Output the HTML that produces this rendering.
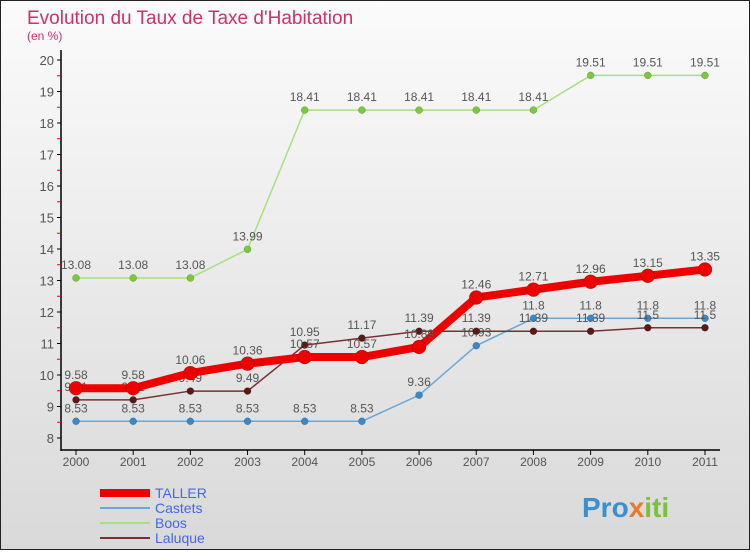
<!DOCTYPE html>
<html><head><meta charset="utf-8"><style>
body{margin:0;width:750px;height:550px;overflow:hidden;font-family:"Liberation Sans",sans-serif}
</style></head><body>
<svg width="750" height="550" xmlns="http://www.w3.org/2000/svg">
<defs><linearGradient id="bg" x1="0" y1="0" x2="0" y2="1"><stop offset="0" stop-color="#fbfbfb"/><stop offset="1" stop-color="#d9d9d9"/></linearGradient></defs>
<rect x="0.5" y="0.5" width="749" height="549" fill="url(#bg)" stroke="#222"/>
<text x="27" y="24" font-size="19" fill="#d0306a">Evolution du Taux de Taxe d'Habitation</text>
<text x="27" y="40" font-size="12" fill="#d0306a">(en %)</text>
<g id="axes"></g><g id="series"></g><g id="legend"></g>
<text x="582" y="517" font-size="28" font-weight="bold" fill="#3a8fd0">Pro<tspan fill="#e8792a">x</tspan><tspan fill="#7cc13b">iti</tspan></text>
</svg>
<script>
const years=[2000,2001,2002,2003,2004,2005,2006,2007,2008,2009,2010,2011];
const taller=[9.58,9.58,10.06,10.36,10.57,10.57,10.89,12.46,12.71,12.96,13.15,13.35];
const castets=[8.53,8.53,8.53,8.53,8.53,8.53,9.36,10.93,11.8,11.8,11.8,11.8];
const boos=[13.08,13.08,13.08,13.99,18.41,18.41,18.41,18.41,18.41,19.51,19.51,19.51];
const laluque=[9.21,9.21,9.49,9.49,10.95,11.17,11.39,11.39,11.39,11.39,11.5,11.5];
const yTicks=[8,9,10,11,12,13,14,15,16,17,18,19,20];
const NS="http://www.w3.org/2000/svg";
const X=i=>76+i*57.18, Y=v=>438-(v-8)*31.5;
function mk(tag,attrs,parent){const e=document.createElementNS(NS,tag);for(const k in attrs)e.setAttribute(k,attrs[k]);parent.appendChild(e);return e;}
const ax=document.getElementById('axes');
let l=mk('line',{x1:61,y1:50,x2:61,y2:451,stroke:'#000','stroke-width':1.5},ax);


l=mk('line',{x1:61,y1:450,x2:720,y2:450,stroke:'#000','stroke-width':1.5},ax);


yTicks.forEach(v=>{
 mk('line',{x1:57,x2:61,y1:Y(v),y2:Y(v),stroke:'#000'},ax);
 if(v<20)mk('line',{x1:57,x2:61,y1:Y(v+0.5),y2:Y(v+0.5),stroke:'#e00'},ax);
 const t=mk('text',{x:54,y:Y(v)+5,'font-size':13,fill:'#555','text-anchor':'end'},ax);t.textContent=v;
 
 
});
years.forEach((y,i)=>{
 mk('line',{x1:X(i),x2:X(i),y1:450,y2:455,stroke:'#000'},ax);
 const t=mk('text',{x:X(i),y:466,'font-size':12,fill:'#555','text-anchor':'middle'},ax);t.textContent=y;
 
 
});
const sg=document.getElementById('series');
function series(name,data,color,w,r,dot){
 const g=mk('g',{},sg);
 
 
 mk('polyline',{points:data.map((v,i)=>X(i)+','+Y(v)).join(' '),fill:'none',stroke:color,'stroke-width':w,'stroke-linejoin':'round'},g);
 data.forEach((v,i)=>{
  const c=mk('circle',{cx:X(i),cy:Y(v),r:r,fill:dot,stroke:'rgba(0,0,0,0.3)','stroke-width':0.5},g);
  
  
  const t=mk('text',{x:X(i),y:Y(v)-9,'font-size':12,fill:'#555','text-anchor':'middle'},g);t.textContent=v;
 });
}
series('boos',boos,'#a8e080',1.5,3.5,'#7cc83c');
series('castets',castets,'#6aa8d8',1.5,3.5,'#3a88c8');
series('laluque',laluque,'#7a3030',1.5,3.5,'#5a1818');
series('taller',taller,'#ee0000',8,7,'#ee0000');
const lg=document.getElementById('legend');
[['TALLER','#ee0000',8],['Castets','#6aa8d8',2],['Boos','#a8e080',2],['Laluque','#7a3030',2]].forEach((d,i)=>{
 const y=493+i*15;
 const g=mk('g',{},lg);
 
 
 mk('line',{x1:100,x2:150,y1:y,y2:y,stroke:d[1],'stroke-width':d[2]},g);
 const t=mk('text',{x:155,y:y+5,'font-size':14,fill:'#4466ee'},g);t.textContent=d[0];
});
</script>
</body></html>
